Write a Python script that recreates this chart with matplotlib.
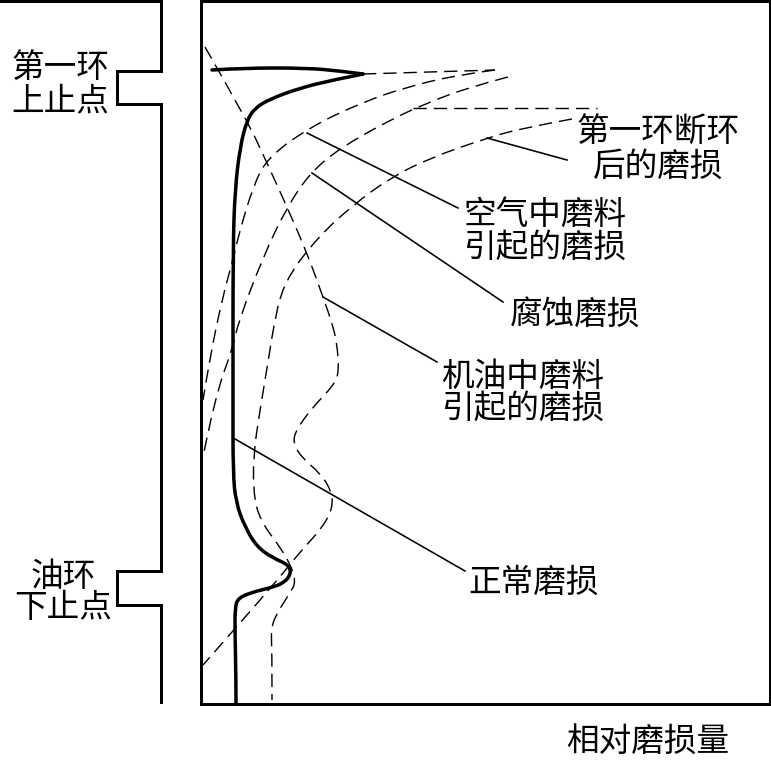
import matplotlib
matplotlib.use('Agg')
import matplotlib.pyplot as plt
from matplotlib.path import Path
from matplotlib.patches import PathPatch

plt.rcParams['font.family'] = ['Noto Sans CJK SC', 'DejaVu Sans']

# everything, in pixels (y goes down)
normal_top_x = [212, 243, 307, 340, 363]
normal_top_y = [70, 68, 68, 71, 74]
normal_x = [363, 333, 300, 270, 255, 247, 240, 235, 233, 233, 233, 236, 245, 257, 273, 289, 291, 284, 270, 253, 238, 235, 235, 236, 236]
normal_y = [74, 80, 88, 99, 108, 120, 147, 190, 247, 400, 473, 503, 527, 547, 558, 565, 574, 583, 588, 592, 598, 608, 633, 680, 703]

air_x = [363, 495]
air_y = [74, 70]
air2_x = [495, 457, 407, 363, 310, 267, 253, 240, 232, 222, 210, 203]
air2_y = [70, 75, 87, 102, 127, 158, 187, 230, 263, 300, 357, 400]

corrosion_x = [508, 470, 427, 390, 340, 310, 287, 263, 238, 233, 215, 203]
corrosion_y = [77, 87, 103, 120, 148, 173, 207, 257, 323, 347, 397, 457]
corrosion2_x = [413, 597]
corrosion2_y = [108, 108]

broken_x = [572, 523, 487, 430, 390, 353, 317, 283, 273, 270, 260, 253, 254, 262, 277, 290, 296, 290, 277, 271, 272, 272]
broken_y = [119, 128, 138, 158, 178, 205, 238, 283, 330, 350, 410, 457, 500, 523, 543, 563, 582, 593, 613, 628, 650, 700]

oil_x = [205, 247, 267, 287, 307, 323, 332, 337, 339, 334, 312, 296, 293, 302, 320, 331, 333, 323, 300, 280, 240, 203]
oil_y = [47, 120, 163, 207, 253, 297, 323, 343, 372, 385, 408, 430, 443, 458, 473, 490, 507, 527, 552, 577, 623, 665]

wall_x = [0, 161, 161, 117, 117, 161, 161, 117, 117, 161, 161]
wall_y = [1, 1, 71, 71, 104, 104, 571, 571, 605, 605, 702]
box_x = [201, 770, 770, 201, 201]
box_y = [1, 1, 704, 704, 1]

leaders = [
    ([307, 458], [133, 208]),
    ([312, 503], [173, 302]),
    ([487, 567], [138, 160]),
    ([323, 437], [297, 362]),
    ([235, 465], [439, 571]),
]

labels = ['第一环', '上止点', '油环', '下止点', '第一环断环', '后的磨损', '空气中磨料',
          '引起的磨损', '腐蚀磨损', '机油中磨料', '引起的磨损', '正常磨损', '相对磨损量']
label_x = [60, 60, 63, 63, 658, 658, 545, 545, 575, 523, 523, 534, 648]
label_y = [68, 101, 577, 608, 133, 167, 215, 248, 315, 377, 409, 583, 743]


def smooth(xs, ys):
    # quadratic curve pieces, the read points act as control points
    verts = [(xs[0], ys[0])]
    codes = [Path.MOVETO]
    for i in range(1, len(xs) - 1):
        end = (xs[-1], ys[-1]) if i == len(xs) - 2 else ((xs[i] + xs[i + 1]) / 2, (ys[i] + ys[i + 1]) / 2)
        verts += [(xs[i], ys[i]), end]
        codes += [Path.CURVE3, Path.CURVE3]
    if len(xs) == 2:
        verts.append((xs[1], ys[1]))
        codes.append(Path.LINETO)
    return Path(verts, codes)


fig = plt.figure(figsize=(7.71, 7.61), dpi=100)
ax = fig.add_axes([0, 0, 1, 1])
ax.set_xlim(0, 771)
ax.set_ylim(761, 0)
ax.axis('off')

px = 72 / 100  # one pixel in points

ax.plot(wall_x, wall_y, color='black', lw=3 * px, solid_joinstyle='miter')
ax.plot(box_x, box_y, color='black', lw=3 * px, solid_joinstyle='miter')
for xs, ys in [(normal_top_x, normal_top_y), (normal_x, normal_y)]:
    ax.add_patch(PathPatch(smooth(xs, ys), fill=False, edgecolor='black', lw=3.5 * px, capstyle='round'))

dash = (0, (9.5, 5))
for xs, ys in [(air_x, air_y), (air2_x, air2_y), (corrosion_x, corrosion_y),
               (corrosion2_x, corrosion2_y), (broken_x, broken_y), (oil_x, oil_y)]:
    ax.add_patch(PathPatch(smooth(xs, ys), fill=False, edgecolor='black', lw=1.4 * px, linestyle=dash))

for xs, ys in leaders:
    ax.plot(xs, ys, color='black', lw=1.6 * px)

for t, x, y in zip(labels, label_x, label_y):
    ax.text(x, y, t, fontsize=23.5, ha='center', va='center', color='black', weight='medium')

fig.savefig('out.png', dpi=100)
